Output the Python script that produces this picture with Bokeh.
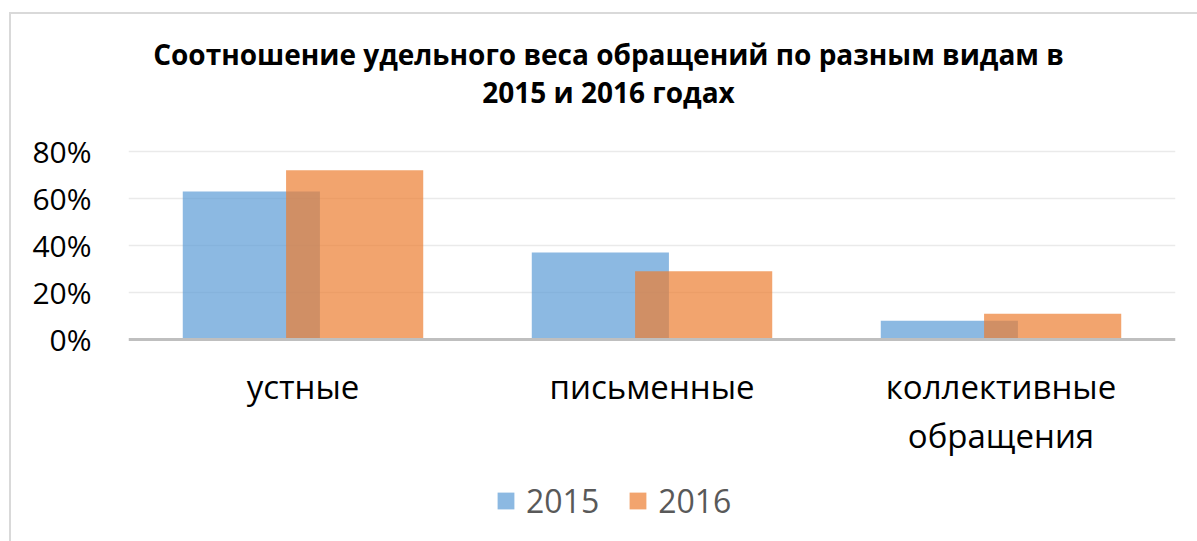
from bokeh.plotting import figure
from bokeh.models import (ColumnDataSource, FactorRange, Range1d, FixedTicker,
                          NumeralTickFormatter, Legend, LegendItem, Label, Span)
from bokeh.core.properties import value
from bokeh.transform import dodge
from bokeh.embed import file_html
from bokeh.resources import INLINE

categories = ["устные", "письменные", "коллективные\nобращения"]
years = ["2015", "2016"]
values_2015 = [0.63, 0.37, 0.08]
values_2016 = [0.72, 0.29, 0.11]
y_ticks = [0, 0.2, 0.4, 0.6, 0.8]
title_lines = ["Соотношение удельного веса обращений по разным видам в",
               "2015 и 2016 годах"]

src = ColumnDataSource(dict(cat=categories, v2015=values_2015, v2016=values_2016))

# layout (pixels)
W, H = 1197, 541
LEFT, RIGHT = 128, 22
Y0_PX, Y80_PX = 339, 151          # screen rows of 0% and 80%
px_per_unit = (Y0_PX - Y80_PX) / 0.8
y_end = Y0_PX / px_per_unit
y_start = -(H - Y0_PX) / px_per_unit

p = figure(width=W, height=H, x_range=FactorRange(*categories, range_padding=0),
           y_range=Range1d(y_start, y_end), output_backend="svg", toolbar_location=None,
           min_border_left=LEFT, min_border_right=RIGHT, min_border_top=0,
           min_border_bottom=0)
p.outline_line_color = None
p.background_fill_alpha = 0
p.border_fill_alpha = 0
p.styles = {"box-shadow": "inset 9px 12px 0 0 #FFFFFF, inset 11px 14px 0 0 #D9D9D9"}

r1 = p.vbar(x=dodge("cat", -0.148, range=p.x_range), top="v2015", width=0.393,
            source=src, fill_color="#5B9BD5", fill_alpha=0.7, line_color=None)
r2 = p.vbar(x=dodge("cat", 0.148, range=p.x_range), top="v2016", width=0.393,
            source=src, fill_color="#ED7D31", fill_alpha=0.7, line_color=None)

# category axis line and labels
p.add_layout(Span(location=0, dimension="width", line_color="#BFBFBF", line_width=3))
p.text(x="cat", y=0, text="cat", source=src, y_offset=24,
       text_align="center", text_baseline="top", text_line_height=1.09,
       text_font=value("Open Sans"), text_font_size="33px", text_color="#000000")
p.xaxis.visible = False

p.yaxis.ticker = FixedTicker(ticks=y_ticks)
p.yaxis.formatter = NumeralTickFormatter(format="0%")
p.yaxis.axis_line_color = None
p.yaxis.major_tick_line_color = None
p.yaxis.minor_tick_line_color = None
p.yaxis.major_tick_out = 0
p.yaxis.major_tick_in = 0
p.yaxis.minor_tick_out = 0
p.yaxis.major_label_text_font = "Open Sans"
p.yaxis.major_label_text_font_size = "30px"
p.yaxis.major_label_text_color = "#000000"
p.yaxis.major_label_standoff = 37

p.xgrid.grid_line_color = None
p.ygrid.grid_line_color = "#EAEAEA"
p.ygrid.grid_line_width = 1.5
p.ygrid.ticker = FixedTicker(ticks=y_ticks[1:])

legend = Legend(items=[LegendItem(label=years[0], renderers=[r1]),
                       LegendItem(label=years[1], renderers=[r2])],
                orientation="horizontal", location=(367, 19),
                glyph_width=21, glyph_height=21, label_standoff=10, spacing=28,
                padding=0, margin=0, border_line_color=None,
                background_fill_alpha=0,
                label_text_font="Open Sans", label_text_font_size="32px",
                label_text_color="#595959")
p.add_layout(legend, "center")

for txt, base in zip(title_lines, [53, 91]):
    p.add_layout(Label(x=608 - LEFT, y=H - base, x_units="screen", y_units="screen",
                       text=txt, text_align="center", text_baseline="alphabetic",
                       text_font="Open Sans", text_font_style="bold",
                       text_font_size="28px", text_color="#000000"))

open("out.html", "w").write(file_html(p, INLINE))
